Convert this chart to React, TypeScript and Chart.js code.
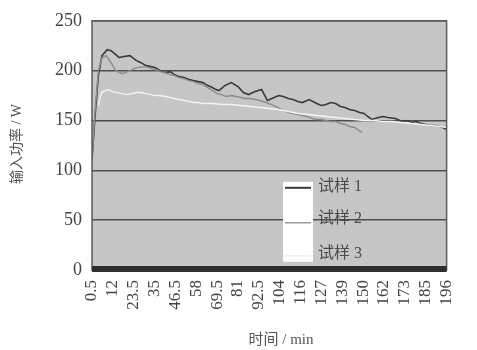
import React, { useEffect, useRef } from "react";
import { Chart, registerables } from "chart.js";

Chart.register(...registerables);

const xTickValues = [0.5, 12, 23.5, 35, 46.5, 58, 69.5, 81, 92.5, 104, 115.5, 127, 138.5, 150, 161.5, 173, 184.5, 196];
const xTickLabels = ["0.5", "12", "23.5", "35", "46.5", "58", "69.5", "81", "92.5", "104", "116", "127", "139", "150", "162", "173", "185", "196"];
const yTickValues = [0, 50, 100, 150, 200, 250];

const seriesNames = ["试样 1", "试样 2", "试样 3"];

// [time (min), power (W)]
const sample1: [number, number][] = [
  [0.5, 110], [2, 150], [4, 195], [6, 215], [8.9, 221], [11, 220], [13.6, 216], [15.5, 213], [17.2, 214],
  [21.4, 215], [25, 210], [27.5, 208], [30.3, 205], [33, 204], [35.5, 203], [38, 200], [40.8, 198],
  [43.5, 199], [46, 196], [48.5, 194], [51.2, 193], [54, 191], [56.4, 190], [59, 189], [61.7, 188],
  [64.3, 185], [66.9, 183], [68.8, 181], [70.5, 180], [73.7, 185], [77.3, 188], [81, 184], [84, 178],
  [86.8, 176], [90.4, 179], [94, 181], [97.2, 170], [100.9, 173], [103.5, 175], [106, 174], [108.7, 172],
  [111.3, 171], [114, 169], [116.5, 168], [120.2, 171], [124.4, 167], [127, 165], [129.6, 166],
  [132, 168], [134.8, 167], [137.5, 164], [140, 163], [142.5, 161], [145.3, 160], [148, 158],
  [150.5, 157], [152.5, 154], [154.7, 151], [158.4, 153], [161, 154], [163.6, 153], [167.8, 152],
  [171.4, 149], [174, 150], [176.7, 148], [179, 149], [181.9, 147], [184.5, 146], [187.1, 145],
  [189.5, 145], [192.3, 144], [194, 143], [196, 141],
];

const sample2: [number, number][] = [
  [0.5, 110], [2, 155], [4, 200], [6, 213], [8.3, 215], [11, 208], [13.6, 200], [17.2, 197],
  [21.4, 200], [25, 203], [30.3, 204], [33, 202], [35.5, 201], [38, 199], [40.8, 198], [43.5, 196],
  [46, 195], [48.5, 193], [51.2, 192], [54, 190], [56.4, 189], [59, 187], [61.7, 186], [64.3, 183],
  [66.9, 180], [69.5, 177], [72, 176], [74.5, 174], [77.3, 175], [80, 174], [82.6, 173], [85, 172],
  [87.8, 172], [90.4, 171], [93, 170], [96.7, 168], [100.9, 165], [104, 162], [106.5, 160],
  [108.7, 158], [111.3, 157], [114, 156], [116.5, 155], [119.2, 154], [122, 152], [124.4, 151],
  [127, 151], [129.6, 150], [132, 149], [134.8, 149], [137.5, 147], [140, 146], [142.5, 144],
  [145.3, 143], [147.5, 140], [149.5, 138],
];

const sample3: [number, number][] = [
  [4, 165], [5.7, 178], [9.4, 181], [12, 179], [14.6, 178], [17, 177], [19.8, 176], [22.5, 177],
  [25, 178], [27.5, 178], [30.3, 177], [33, 176], [35.5, 175], [38, 175], [40.8, 174], [43.5, 173],
  [46, 172], [48.5, 171], [51.2, 170], [54, 169], [56.4, 168], [59, 168], [61.7, 167], [66.9, 167],
  [72, 166], [77.3, 166], [82.6, 165], [87.8, 164], [93, 163], [98.2, 162], [103.5, 161],
  [108.7, 159], [114, 157], [119.2, 156], [124.4, 155], [129.6, 154], [134.8, 153], [140, 152],
  [145.3, 151], [150.5, 150], [155.7, 150], [161, 149], [166, 149], [171.4, 148], [176.7, 147],
  [181.9, 146], [187.1, 145], [192.3, 144], [196, 143],
];

const lineColors = ["#3a3a3a", "#8c8c8c", "#f4f4f4"];
const lineWidths = [1.6, 1.4, 1.4];

const SERIF = '"Liberation Serif", "Noto Sans CJK SC", serif';

const frame = {
  id: "frame",
  beforeDraw(chart: any) {
    const { ctx, chartArea: a } = chart;
    ctx.save();
    ctx.fillStyle = "#c6c6c6";
    ctx.fillRect(a.left, a.top, a.right - a.left, a.bottom - a.top);
    ctx.restore();
  },
  afterDatasetsDraw(chart: any) {
    const { ctx, chartArea: a } = chart;
    ctx.save();
    ctx.strokeStyle = "#5a5a5a";
    ctx.lineWidth = 1.5;
    ctx.strokeRect(a.left, a.top, a.right - a.left, a.bottom - a.top);
    ctx.fillStyle = "#2e2e2e";
    ctx.fillRect(a.left, a.bottom - 4, a.right - a.left, 6);

    // legend
    const bx = a.left + 191;
    const by = a.top + 161;
    ctx.fillStyle = "#ffffff";
    ctx.fillRect(bx, by, 30, 80);
    const rows = [6, 41, 74];
    const textRows = [5, 37, 72];
    ctx.font = `16px ${SERIF}`;
    ctx.textAlign = "left";
    ctx.textBaseline = "middle";
    for (let i = 0; i < seriesNames.length; i++) {
      ctx.strokeStyle = i === 2 ? "#eeeeee" : lineColors[i];
      ctx.lineWidth = i === 0 ? 2 : 1.3;
      ctx.beginPath();
      ctx.moveTo(bx + 2, by + rows[i]);
      ctx.lineTo(bx + 28, by + rows[i]);
      ctx.stroke();
      ctx.fillStyle = "#4a4a4a";
      ctx.fillText(seriesNames[i], bx + 35, by + textRows[i]);
    }

    // axis titles
    ctx.fillStyle = "#555555";
    ctx.font = `15px ${SERIF}`;
    ctx.textAlign = "center";
    ctx.fillText("时间 / min", 281, 340);
    ctx.translate(17, 144);
    ctx.rotate(-Math.PI / 2);
    ctx.font = `14px ${SERIF}`;
    ctx.fillText("输入功率 / W", 0, 0);
    ctx.restore();
  },
};

export default function App() {
  const ref = useRef<HTMLCanvasElement | null>(null);
  useEffect(() => {
    document.body.style.margin = "0";
    const canvas = ref.current;
    if (!canvas) return;
    const datasets = [sample1, sample2, sample3].map((s, i) => ({
      label: seriesNames[i],
      data: s.map(([x, y]) => ({ x, y })),
      borderColor: lineColors[i],
      borderWidth: lineWidths[i],
      pointRadius: 0,
      tension: 0,
      fill: false,
    }));
    const order = [datasets[2], datasets[1], datasets[0]];
    const chart = new Chart(canvas, {
      type: "line",
      data: { datasets: order },
      options: {
        animation: false,
        responsive: false,
        maintainAspectRatio: false,
        layout: { padding: { left: 0, right: 10, top: 17, bottom: 0 } },
        plugins: { legend: { display: false }, tooltip: { enabled: false } },
        scales: {
          x: {
            type: "linear",
            min: 0.5,
            max: 196,
            afterBuildTicks: (axis: any) => {
              axis.ticks = xTickValues.map((v) => ({ value: v }));
            },
            afterFit: (axis: any) => {
              axis.height = 80;
            },
            grid: { display: false, drawTicks: false },
            border: { display: false },
            ticks: {
              autoSkip: false,
              maxRotation: 90,
              minRotation: 90,
              padding: 10,
              color: "#444",
              font: { family: SERIF, size: 17 },
              callback: (_v: any, i: number) => xTickLabels[i],
            },
          },
          y: {
            min: 0,
            max: 250,
            afterBuildTicks: (axis: any) => {
              axis.ticks = yTickValues.map((v) => ({ value: v }));
            },
            afterFit: (axis: any) => {
              axis.width = 92;
            },
            grid: {
              drawTicks: false,
              color: "#4e4e4e",
              lineWidth: 1.5,
            },
            border: { display: false },
            ticks: {
              padding: 10,
              color: "#444",
              font: { family: SERIF, size: 18 },
            },
          },
        },
      },
      plugins: [frame],
    });
    return () => chart.destroy();
  }, []);
  return (
    <div style={{ position: "absolute", left: 0, top: 0, width: 477, height: 350 }}>
      <canvas ref={ref} width={477} height={350} style={{ width: 477, height: 350 }} />
    </div>
  );
}
